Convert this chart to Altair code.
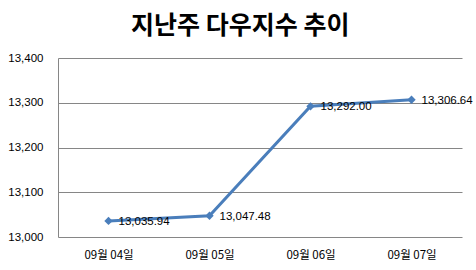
import altair as alt
import pandas as pd

dates = ["09월 04일", "09월 05일", "09월 06일", "09월 07일"]
values = [13035.94, 13047.48, 13292.00, 13306.64]
labels = ["13,035.94", "13,047.48", "13,292.00", "13,306.64"]

df = pd.DataFrame({"date": dates, "value": values, "label": labels})

x = alt.X("date:N", sort=dates, title=None,
          scale=alt.Scale(type="point", padding=0.5),
          axis=alt.Axis(labelAngle=0, ticks=False, domain=False, grid=False,
                        labelFont="Noto Sans CJK KR", labelFontSize=11.5,
                        labelColor="#000000", labelPadding=12))
y = alt.Y("value:Q", title=None,
          scale=alt.Scale(domain=[13000, 13400], nice=False, zero=False),
          axis=alt.Axis(values=[13000, 13100, 13200, 13300, 13400], format=",.0f",
                        ticks=False, domain=True, domainColor="#868686",
                        gridColor="#868686", gridWidth=1, domainWidth=1,
                        labelFont="Liberation Sans", labelFontSize=11.5,
                        labelColor="#000000", labelPadding=15))

base = alt.Chart(df).encode(x=x, y=y)

line = base.mark_line(color="#4a7ebb", strokeWidth=3)
pts = base.mark_point(shape="diamond", filled=True, color="#4a7ebb", size=70, opacity=1)
txt = base.mark_text(align="left", baseline="middle", dx=10, dy=1,
                     font="Liberation Sans", fontSize=11.5, color="#000000").encode(text="label:N")

chart = (line + pts + txt).properties(
    width=404, height=179,
    title=alt.TitleParams("지난주 다우지수 추이", font="Noto Sans CJK KR",
                          fontSize=25, fontWeight="bold", color="#000000",
                          anchor="middle", frame="bounds", offset=13),
    autosize=alt.AutoSizeParams(type="none"),
    padding={"left": 58, "top": 58, "right": 14, "bottom": 33},
    background="white",
).configure_view(stroke=None)

chart.save("out.html", embed_options={"renderer": "svg", "actions": False})
